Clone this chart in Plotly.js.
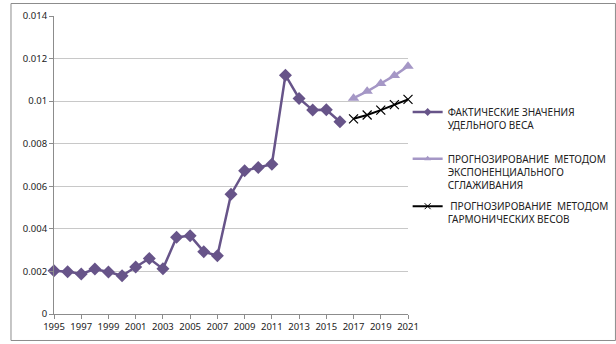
<!DOCTYPE html>
<html><head><meta charset="utf-8">
<script src="https://cdn.plot.ly/plotly-3.0.1.min.js"></script>
<style>html,body{margin:0;padding:0;background:#fff}#c{width:616px;height:344px}</style>
</head><body><div id="c"></div>
<script>
var yearsActual = [1995,1996,1997,1998,1999,2000,2001,2002,2003,2004,2005,2006,2007,2008,2009,2010,2011,2012,2013,2014,2015,2016];
var actual = [0.00203,0.00199,0.00188,0.00211,0.00197,0.00180,0.00221,0.00261,0.00212,0.00360,0.00368,0.00293,0.00274,0.00562,0.00673,0.00688,0.00704,0.01122,0.01013,0.00958,0.00959,0.00903];
var yearsForecast = [2017,2018,2019,2020,2021];
var expSmooth = [0.01014,0.01046,0.01083,0.01120,0.01164];
var harmonic = [0.00917,0.00935,0.00958,0.00984,0.01008];
var names = ['ФАКТИЧЕСКИЕ ЗНАЧЕНИЯ<br>УДЕЛЬНОГО ВЕСА','ПРОГНОЗИРОВАНИЕ  МЕТОДОМ<br>ЭКСПОНЕНЦИАЛЬНОГО<br>СГЛАЖИВАНИЯ',' ПРОГНОЗИРОВАНИЕ  МЕТОДОМ<br>ГАРМОНИЧЕСКИХ ВЕСОВ'];
var yTicks = [0,0.002,0.004,0.006,0.008,0.01,0.012,0.014];
var yTickText = ['0','0.002','0.004','0.006','0.008','0.01','0.012','0.014'];

var cA = '#675489', cB = '#A597C6', cC = '#000000';
var traces = [
  {x: yearsActual, y: actual, name: names[0], showlegend:false, mode:'lines+markers',
   line:{color:cA, width:2.5}, marker:{symbol:'diamond', size:10, color:cA}, cliponaxis:false},
  {x: yearsForecast, y: expSmooth, name: names[1], showlegend:false, mode:'lines+markers',
   line:{color:cB, width:2.5}, marker:{symbol:'triangle-up', size:10, color:cB}, cliponaxis:false},
  {x: yearsForecast, y: harmonic, name: names[2], showlegend:false, mode:'lines+markers',
   line:{color:cC, width:2}, marker:{symbol:'x-thin-open', size:9, color:cC, line:{width:1.2,color:cC}}, cliponaxis:false},
  // legend entries (small symbols as in the reference legend)
  {x:[null], y:[null], name:names[0], legend:'legend', mode:'lines+markers',
   line:{color:cA, width:2.5}, marker:{symbol:'diamond', size:6, color:cA}},
  {x:[null], y:[null], name:names[1], legend:'legend2', mode:'lines+markers',
   line:{color:cB, width:2.5}, marker:{symbol:'triangle-up', size:6, color:cB}},
  {x:[null], y:[null], name:names[2], legend:'legend3', mode:'lines+markers',
   line:{color:cC, width:2}, marker:{symbol:'x-thin-open', size:6, color:cC, line:{width:1,color:cC}}}
];
var lg = function(y){ return {x:0.999, xanchor:'left', y:y, yanchor:'top', valign:'top', itemsizing:'trace',
    font:{family:'Noto Sans, sans-serif', size:10, color:'#222'}, bgcolor:'rgba(0,0,0,0)'}; };
var layout = {
  width:616, height:344,
  margin:{l:54, r:208, t:16, b:30, autoexpand:false},
  paper_bgcolor:'#fff', plot_bgcolor:'#fff',
  font:{family:'Noto Sans, sans-serif', size:10, color:'#222'},
  showlegend:true,
  legend: lg(0.7215), legend2: lg(0.5644), legend3: lg(0.4054),
  xaxis:{range:[1995,2021], tickmode:'linear', tick0:1995, dtick:2, showgrid:false, zeroline:false,
    showline:true, linecolor:'#8c8c8c', linewidth:1, ticks:'outside', ticklen:4, tickcolor:'#8c8c8c',
    tickfont:{size:9.5, color:'#222'}, fixedrange:true},
  yaxis:{range:[0,0.014], tickvals:yTicks, ticktext:yTickText, showgrid:true, gridcolor:'#c8c8c8', gridwidth:1,
    zeroline:false, showline:true, linecolor:'#8c8c8c', linewidth:1, ticks:'outside', ticklen:4, tickcolor:'#8c8c8c',
    tickfont:{size:9.5, color:'#222'}, fixedrange:true},
  shapes:[{type:'rect', xref:'paper', yref:'paper', x0:-0.1215, x1:1.586, y0:-0.0889, y1:1.0419,
    line:{color:'#8c8c8c', width:1}, fillcolor:'rgba(0,0,0,0)', layer:'below'}]
};
Plotly.newPlot('c', traces, layout, {staticPlot:true});
</script></body></html>
